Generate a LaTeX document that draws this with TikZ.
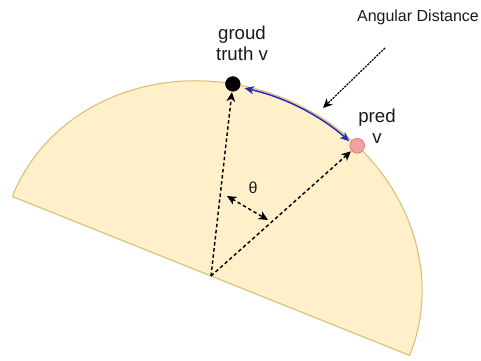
\documentclass[tikz,border=0pt]{standalone}
\usepackage{fontspec}
\setmainfont{Liberation Sans}
\usetikzlibrary{arrows.meta}
\definecolor{halffill}{HTML}{FFF0C9}
\definecolor{halfdraw}{HTML}{D9BF78}
\definecolor{txt}{HTML}{1A1A1A}
\definecolor{arcblue}{HTML}{2828B8}
\definecolor{predfill}{HTML}{F2A2A2}
\definecolor{preddraw}{HTML}{DE7C7C}
\tikzset{
  half/.style={fill=halffill, draw=halfdraw, line width=0.8pt, line join=round},
  gtdot/.style={circle, fill=black, draw=black, inner sep=0pt, minimum size=11pt},
  preddot/.style={circle, fill=predfill, draw=preddraw, line width=0.6pt, inner sep=0pt, minimum size=11pt},
  radial/.style={draw=black, line width=1.1pt, dash pattern=on 2.6pt off 2pt, -{Stealth[length=7pt,width=6.5pt,inset=2pt]}, shorten >=0.5pt},
  thetaarrow/.style={draw=black, line width=1.1pt, dash pattern=on 2.6pt off 2pt, {Stealth[length=7pt,width=6.5pt,inset=2pt]}-{Stealth[length=7pt,width=6.5pt,inset=2pt]}},
  bluearc/.style={draw=arcblue, line width=1.1pt, {Stealth[length=7pt,width=6pt,inset=2pt]}-{Stealth[length=7pt,width=6pt,inset=2pt]}},
  adarrow/.style={draw=black, line width=0.9pt, dash pattern=on 1.6pt off 0.8pt, -{Stealth[length=7pt,width=6.5pt,inset=2pt]}},
  lbl/.style={text=txt, font=\fontsize{14}{15.5}\selectfont, align=center, inner sep=0pt},
  smalllbl/.style={text=txt, font=\fontsize{12}{14}\selectfont, inner sep=0pt}
}
\begin{document}
\begin{tikzpicture}[x=0.75pt,y=0.75pt]
\useasboundingbox (0,0) rectangle (481,360);
\coordinate (C) at (211,84);
\begin{scope}[shift={(C)}, rotate=-21.8]
  \path[half] (214,0) arc[start angle=0, end angle=180, x radius=214, y radius=192] -- cycle;
  \node[gtdot] (gt) at ({214*cos(103.8)},{192*sin(103.8)}) {};
  \node[preddot] (pred) at ({214*cos(65.9)},{192*sin(65.9)}) {};
  \draw[bluearc] ({212*cos(100.5)},{190*sin(100.5)}) arc[start angle=100.5, end angle=68.3, x radius=212, y radius=190];
\end{scope}
\draw[radial] (C) -- (gt);
\draw[radial] (C) -- (pred);
\coordinate (th1) at (227,164);
\coordinate (th2) at (268,140);
\draw[thetaarrow] (th1) -- (th2);
\node[lbl, font=\fontsize{12}{13}\selectfont] (theta) at (253,172) {θ};
\node[lbl] (gtlabel) at (242,317) {groud\\truth v};
\node[lbl] (predlabel) at (377,233.5) {pred\\v};
\node[smalllbl] (ad) at (418,343) {Angular Distance};
\coordinate (ad1) at (385,312);
\coordinate (ad2) at (323,252);
\draw[adarrow] (ad1) -- (ad2);
\end{tikzpicture}
\end{document}
